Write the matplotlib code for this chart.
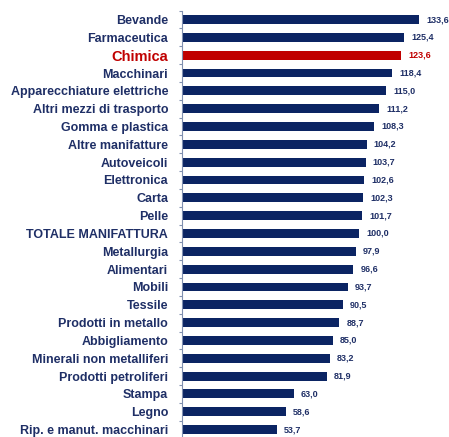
import matplotlib
matplotlib.use("Agg")
import matplotlib.pyplot as plt

categories = ["Bevande", "Farmaceutica", "Chimica", "Macchinari", "Apparecchiature elettriche",
              "Altri mezzi di trasporto", "Gomma e plastica", "Altre manifatture", "Autoveicoli",
              "Elettronica", "Carta", "Pelle", "TOTALE MANIFATTURA", "Metallurgia", "Alimentari",
              "Mobili", "Tessile", "Prodotti in metallo", "Abbigliamento", "Minerali non metalliferi",
              "Prodotti petroliferi", "Stampa", "Legno", "Rip. e manut. macchinari"]
values = [133.6, 125.4, 123.6, 118.4, 115.0, 111.2, 108.3, 104.2, 103.7, 102.6, 102.3, 101.7,
          100.0, 97.9, 96.6, 93.7, 90.5, 88.7, 85.0, 83.2, 81.9, 63.0, 58.6, 53.7]
highlight = "Chimica"

fam = "Liberation Sans"
navy = "#0b2463"
red = "#c00000"
txt = "#1f2f66"

fig = plt.figure(figsize=(4.49, 4.37), dpi=100)
n = len(categories)
top_px = 10.6
step = 17.83
h_px = n * step
ax = fig.add_axes([182/449, (437 - top_px - h_px)/437, (449-182)/449, h_px/437])

ypos = list(range(n))
colors = [red if c == highlight else navy for c in categories]
ax.barh(ypos, values, height=0.5, color=colors, left=0)
ax.set_ylim(n - 0.5, -0.5)
ax.set_xlim(0, 150.5)

for y, v, c in zip(ypos, values, categories):
    col = red if c == highlight else txt
    ax.annotate(f"{v:.1f}".replace(".", ","), (v, y), xytext=(5, 0), textcoords="offset points",
                ha="left", va="center", fontsize=6.5, fontweight="bold", color=col, family=fam)

ax.set_yticks([i - 0.5 for i in range(n + 1)], minor=False)
ax.set_yticklabels([])
ax.set_yticks(ypos, minor=True)
ax.set_yticklabels(categories, minor=True)
ax.tick_params(axis="y", which="major", length=2.5, width=0.8, color="#8090b0", direction="out")
ax.tick_params(axis="y", which="minor", length=0, pad=10)
for lab, c in zip(ax.get_yticklabels(minor=True), categories):
    lab.set_fontfamily(fam)
    lab.set_fontweight("bold")
    if c == highlight:
        lab.set_fontsize(10.5)
        lab.set_color(red)
    else:
        lab.set_fontsize(9)
        lab.set_color(txt)
ax.set_xticks([])
for s in ["top", "right", "bottom"]:
    ax.spines[s].set_visible(False)
ax.spines["left"].set_color("#8090b0")
ax.spines["left"].set_linewidth(0.8)

fig.savefig("out.png", dpi=100)
